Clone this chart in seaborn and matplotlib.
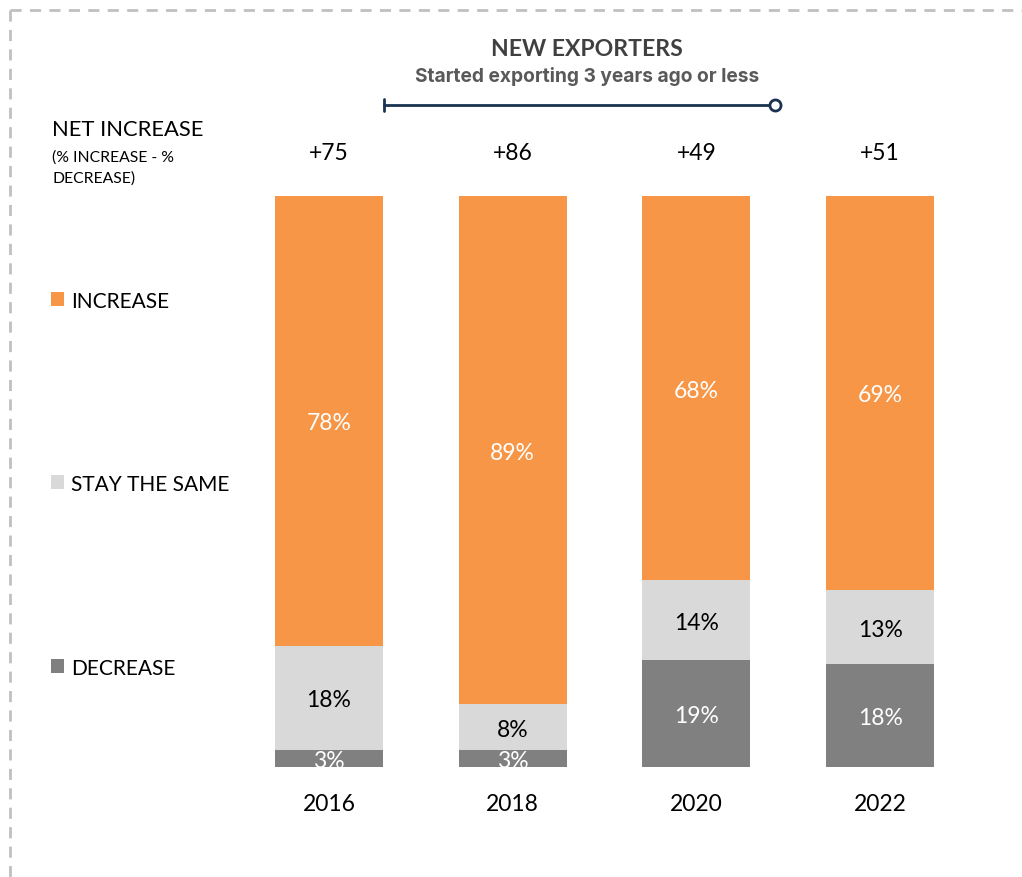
import matplotlib
matplotlib.use("Agg")
import matplotlib.pyplot as plt
from matplotlib.lines import Line2D
import numpy as np
import pandas as pd
import seaborn as sns

# Survey answers for new exporters, by survey year
years = ["2016", "2018", "2020", "2022"]
increase = [78, 89, 68, 69]
stay_same = [18, 8, 14, 13]
decrease = [3, 3, 19, 18]
net_increase = ["+75", "+86", "+49", "+51"]
segment_names = ["INCREASE", "STAY THE SAME", "DECREASE"]

ORANGE = "#F79646"
LIGHT = "#D9D9D9"
DARK = "#808080"
NAVY = "#1B3350"

W, H = 1022, 878

sns.set_theme(style="white")
plt.rcParams["font.family"] = ["Lato", "DejaVu Sans"]

df = pd.DataFrame({"year": years, "increase": increase,
                   "stay": stay_same, "decrease": decrease})
total = df[["increase", "stay", "decrease"]].sum(axis=1)
df["dec_top"] = df["decrease"] / total * 100
df["stay_top"] = df["dec_top"] + df["stay"] / total * 100
df["inc_top"] = df["stay_top"] + df["increase"] / total * 100

fig = plt.figure(figsize=(W / 100, H / 100), dpi=100)


def fx(px):
    return px / W


def fy(py):
    return 1 - py / H


ax = fig.add_axes([fx(237.2), fy(768), 734.7 / W, 571 / H])

# Stacked bars: draw cumulative heights from the tallest layer down
for col, color in [("inc_top", ORANGE), ("stay_top", LIGHT), ("dec_top", DARK)]:
    sns.barplot(data=df, x="year", y=col, order=years, color=color,
                saturation=1, width=0.588, errorbar=None, linewidth=0, ax=ax)

ax.set_xlim(-0.5, 3.5)
ax.set_ylim(0, 100)
ax.set_xlabel("")
ax.set_ylabel("")
ax.set_yticks([])
ax.tick_params(axis="x", length=0, pad=18.5, labelsize=16.5, labelcolor="black")
sns.despine(ax=ax, left=True, bottom=True)

# Small downward nudge (in data units) so labels sit on the segment centres
NUDGE = -0.35

# Segment labels
for i in range(len(years)):
    d0, s0, i0 = df.loc[i, "dec_top"], df.loc[i, "stay_top"], df.loc[i, "inc_top"]
    segs = [((s0 + i0) / 2, f"{increase[i]}%", "white"),
            ((d0 + s0) / 2, f"{stay_same[i]}%", "black"),
            (d0 / 2, f"{decrease[i]}%", "white")]
    for y, txt, c in segs:
        ax.text(i, y + NUDGE, txt, ha="center", va="center", fontsize=16.5,
                color=c, clip_on=True)
    ax.text(i, 107.9 + NUDGE, net_increase[i], ha="center", va="center",
            fontsize=16.5, color="black", clip_on=False)

# Left-hand labels and legend
fig.text(fx(52), fy(130), "NET INCREASE", ha="left", va="center",
         fontsize=15.8, color="black")
fig.text(fx(52), fy(158), "(% INCREASE - %", ha="left", va="center",
         fontsize=11.3, color="black")
fig.text(fx(52), fy(179), "DECREASE)", ha="left", va="center",
         fontsize=11.3, color="black")

for name, color, py in zip(segment_names, [ORANGE, LIGHT, DARK], [300, 483, 667]):
    fig.patches.append(plt.Rectangle((fx(51), fy(py + 7)), 13 / W, 14 / H,
                                     transform=fig.transFigure, facecolor=color,
                                     edgecolor="none"))
    fig.text(fx(71), fy(py + 2), name, ha="left", va="center",
             fontsize=15, color="black")

# Header with bracket
fig.text(fx(587), fy(50), "NEW EXPORTERS", ha="center", va="center",
         fontsize=16.6, fontweight="bold", color="#404040")
fig.text(fx(587), fy(77), "Started exporting 3 years ago or less",
         ha="center", va="center", fontsize=13.8, fontweight="bold",
         color="#595959", family=["Inter", "DejaVu Sans"])
fig.add_artist(Line2D([fx(384), fx(775)], [fy(106), fy(106)],
                      transform=fig.transFigure, color=NAVY, lw=2))
fig.add_artist(Line2D([fx(384), fx(384)], [fy(100), fy(112)],
                      transform=fig.transFigure, color=NAVY, lw=2))
fig.add_artist(Line2D([fx(775)], [fy(106)], transform=fig.transFigure,
                      marker="o", ms=8, mfc="white", mec=NAVY, mew=2,
                      linestyle="none"))

# Dashed frame
dash = dict(transform=fig.transFigure, color="#C0C0C0", lw=2,
            linestyle=(0, (4, 3)))
fig.add_artist(Line2D([fx(10), fx(10)], [fy(11), fy(878)], **dash))
fig.add_artist(Line2D([fx(10), fx(1022)], [fy(11), fy(11)], **dash))

fig.savefig("out.png", dpi=100, facecolor="white")
